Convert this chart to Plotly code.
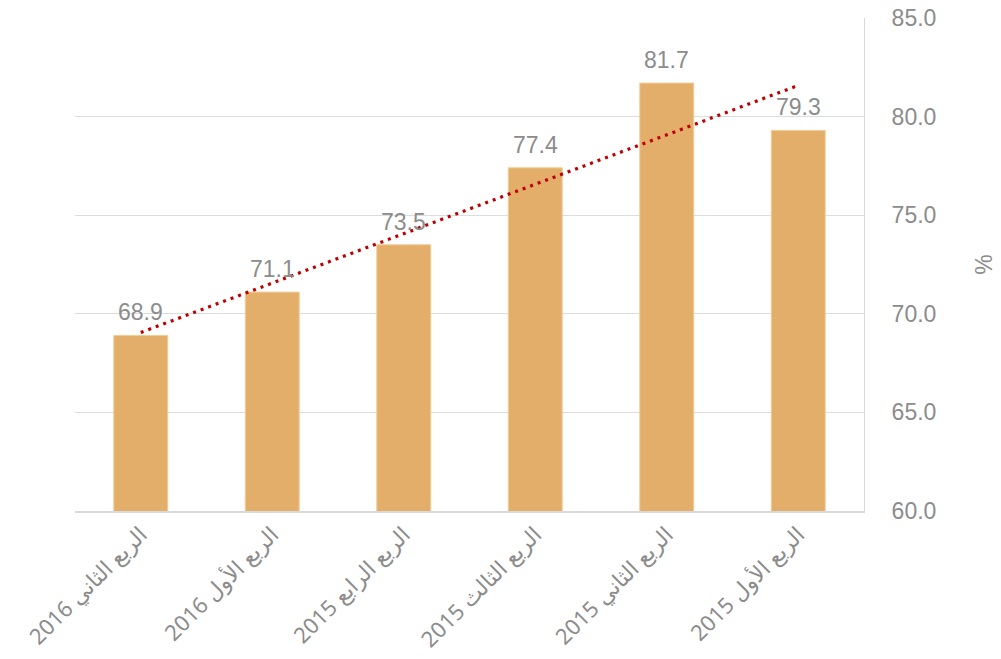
import numpy as np
import plotly.graph_objects as go

categories = ["2016 الربع الثاني", "2016 الربع الأول", "2015 الربع الرابع",
              "2015 الربع الثالث", "2015 الربع الثاني", "2015 الربع الأول"]
values = [68.9, 71.1, 73.5, 77.4, 81.7, 79.3]
y_ticks = [60, 65, 70, 75, 80, 85]
y_ticktext = ["60.0", "65.0", "70.0", "75.0", "80.0", "85.0"]

idx = np.arange(len(values))
slope, intercept = np.polyfit(idx, values, 1)
trend = slope * idx + intercept

fig = go.Figure()
fig.add_trace(go.Bar(
    x=categories, y=values, width=0.41,
    marker=dict(color="#E3AE6A", line=dict(color="#F2CC94", width=1)),
    showlegend=False, hoverinfo="x+y",
))
fig.add_trace(go.Scatter(
    x=categories, y=trend, mode="lines",
    line=dict(color="#C00000", width=3.2, dash="3px,5px"),
    showlegend=False, hoverinfo="skip",
))
for c, v in zip(categories, values):
    fig.add_annotation(x=c, y=v, text=f"{v:.1f}", showarrow=False,
                       yanchor="bottom", yshift=8,
                       font=dict(family="Liberation Sans, Arial", size=23, color="#8C8C8C"))

fig.update_layout(
    width=1001, height=659,
    margin=dict(l=75, r=137, t=18, b=148),
    plot_bgcolor="white", paper_bgcolor="white",
    bargap=0.59,
    xaxis=dict(
        tickangle=-45, showgrid=False, automargin=False,
        showline=True, linecolor="#D9D9D9", linewidth=2,
        tickfont=dict(family="Noto Sans, DejaVu Sans", size=22, color="#8C8C8C"),
        ticks="", fixedrange=True,
    ),
    yaxis=dict(
        side="right", range=[60, 85], automargin=False,
        tickvals=y_ticks, ticktext=y_ticktext,
        showgrid=True, gridcolor="#DDDDDD", gridwidth=1,
        showline=True, linecolor="#D9D9D9", linewidth=1,
        ticks="", ticklabelstandoff=22,
        tickfont=dict(family="Liberation Sans, Arial", size=23, color="#8C8C8C"),
        title=dict(text="%", font=dict(family="Liberation Sans, Arial", size=23, color="#8C8C8C"),
                   standoff=40),
        zeroline=False,
    ),
)

fig.write_html("out.html")
